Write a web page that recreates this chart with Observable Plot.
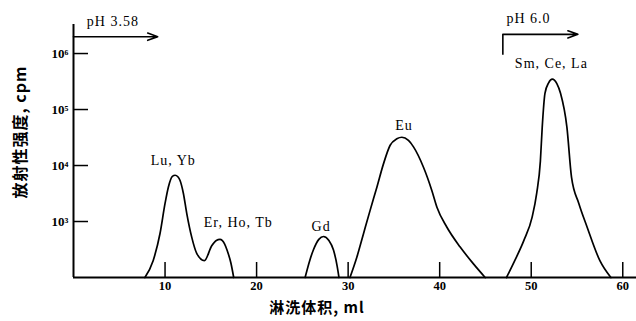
<!DOCTYPE html>
<html><head><meta charset="utf-8">
<script src="https://cdn.jsdelivr.net/npm/d3@7"></script>
<script src="https://cdn.jsdelivr.net/npm/@observablehq/plot@0.6"></script>
<style>body{margin:0;background:#fff} svg{display:block} g[aria-label="text"] text{letter-spacing:1px}</style>
</head><body><div id="chart"></div>
<script>
// Elution volume (ml) and activity (cpm)
const luErVolume = [7.8, 8.7, 9.45, 10.0, 10.36, 10.8, 11.1, 11.4, 11.64, 12.0, 12.37, 12.92, 13.46, 14.3, 15.1, 15.6, 16.0, 16.5, 16.8, 17.2, 17.5];
const luErCpm    = [100, 200, 610, 2100, 4100, 6400, 6700, 6300, 5400, 3200, 1400, 520, 270, 200, 370, 460, 480, 400, 300, 180, 100];
const gdVolume = [25.3, 25.8, 26.2, 26.8, 27.3, 27.9, 28.4, 28.8, 29.0];
const gdCpm    = [100, 200, 310, 480, 540, 460, 310, 160, 100];
const euVolume = [30.2, 30.95, 31.67, 32.4, 33.14, 33.86, 34.59, 35.32, 35.87, 36.59, 37.14, 38.23, 39.15, 39.7, 40.79, 42.24, 43.69, 44.97];
const euCpm    = [100, 230, 600, 1580, 4100, 10700, 23000, 30000, 32000, 28000, 21500, 9300, 3550, 1800, 790, 350, 175, 100];
const smVolume = [47.3, 48.2, 49.2, 50.1, 50.6, 51.0, 51.2, 51.5, 51.9, 52.3, 52.8, 53.2, 53.9, 54.4, 55.2, 56.1, 57.5, 58.7];
const smCpm    = [100, 200, 460, 1200, 3200, 12000, 48000, 195000, 300000, 350000, 290000, 195000, 48000, 6200, 2100, 800, 200, 100];

const peakNames  = ["Lu, Yb", "Er, Ho, Tb", "Gd", "Eu", "Sm, Ce, La"];
const peakLabelX = [10.9, 18.0, 27.05, 36.1, 52.2];
const peakLabelY = [12300, 960, 810, 52000, 660000];

const phNames  = ["pH 3.58", "pH 6.0"];
const phLabelX = [4.3, 49.7];
const phLabelY = [3.7e6, 4.2e6];
const phArrowX1 = [0, 46.9];
const phArrowX2 = [9.2, 55.1];
const phArrowY  = [2.0e6, 2.2e6];
const phBracketX = [46.9];
const phBracketY1 = [950000];

const xTicks = [10, 20, 30, 40, 50, 60];
const yTicks = [1e3, 1e4, 1e5, 1e6];
const sup = {3: "³", 4: "⁴", 5: "⁵", 6: "⁶"};
const xTitle = "淋洗体积, ml";
const yTitle = "放射性强度, cpm";

const rows = [];
[[luErVolume, luErCpm, "LuEr"], [gdVolume, gdCpm, "Gd"], [euVolume, euCpm, "Eu"], [smVolume, smCpm, "Sm"]]
  .forEach(([xs, ys, g]) => xs.forEach((x, i) => rows.push({x, y: ys[i], g})));
const peaks = peakNames.map((t, i) => ({t, x: peakLabelX[i], y: peakLabelY[i]}));
const phs = phNames.map((t, i) => ({t, x: phLabelX[i], y: phLabelY[i], x1: phArrowX1[i], x2: phArrowX2[i], ya: phArrowY[i]}));
const brackets = phBracketX.map((x, i) => ({x, y1: phBracketY1[i], y2: phArrowY[1]}));

const serif = "'Liberation Serif', 'DejaVu Serif', serif";
const cjk = "'Noto Sans CJK SC', sans-serif";

const chart = Plot.plot({
  width: 636, height: 321,
  marginLeft: 73, marginRight: 0, marginTop: 24, marginBottom: 44,
  style: {fontFamily: serif, background: "white", color: "black"},
  x: {domain: [0, 61.5]},
  y: {type: "log", domain: [100, 3.3e6]},
  marks: [
    Plot.axisX(xTicks, {tickSize: -15, tickPadding: 19, fontWeight: "bold", fontSize: 12.5, strokeWidth: 1.5, label: null}),
    Plot.axisY(yTicks, {tickSize: -15, tickPadding: 20, fontWeight: "bold", fontSize: 13, strokeWidth: 1.5, label: null,
      tickFormat: d => "10" + sup[Math.round(Math.log10(d))]}),
    Plot.ruleX([0], {strokeWidth: 2}),
    Plot.ruleY([100], {strokeWidth: 2}),
    Plot.line(rows, {x: "x", y: "y", z: "g", curve: "monotone-x", strokeWidth: 1.7}),
    Plot.text(peaks, {x: "x", y: "y", text: "t", fontSize: 14, fontFamily: serif}),
    Plot.text(phs, {x: "x", y: "y", text: "t", fontSize: 14, fontFamily: serif}),
    Plot.arrow(phs, {x1: "x1", x2: "x2", y1: "ya", y2: "ya", strokeWidth: 1.6, headLength: 10, headAngle: 40}),
    Plot.link(brackets, {x1: "x", x2: "x", y1: "y1", y2: "y2", strokeWidth: 1.6}),
    Plot.text([xTitle], {frameAnchor: "bottom", textAnchor: "middle", lineAnchor: "middle", dx: -38, dy: 31, fontSize: 15, fontWeight: "bold", fontFamily: cjk}),
    Plot.text([yTitle], {frameAnchor: "left", textAnchor: "middle", lineAnchor: "middle", rotate: -90, dx: -53, dy: -19, fontSize: 16, fontWeight: "bold", fontFamily: cjk})
  ]
});
document.getElementById("chart").append(chart);
</script>
</body></html>
